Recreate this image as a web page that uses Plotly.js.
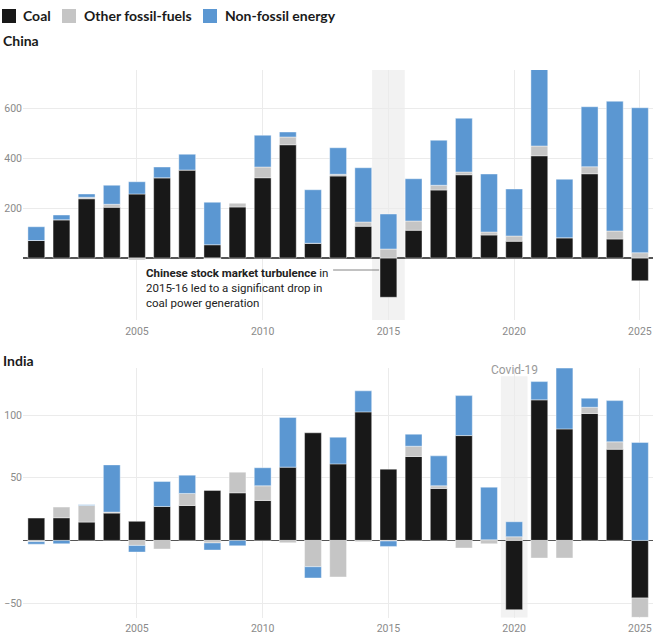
<!DOCTYPE html>
<html>
<head>
<meta charset="utf-8">
<script src="https://cdn.plot.ly/plotly-3.0.1.min.js"></script>
<style>html,body{margin:0;padding:0;background:#fff;}#chart{width:658px;height:643px;}</style>
</head>
<body>
<div id="chart"></div>
<script>
const years = [2001,2002,2003,2004,2005,2006,2007,2008,2009,2010,2011,2012,2013,2014,2015,2016,2017,2018,2019,2020,2021,2022,2023,2024,2025];
const tickYears = [2005,2010,2015,2020,2025];

const chinaCoal      = [70,153,237,203,256,321,352,53,204,321,453,59,328,127,-157,111,272,333,92,67,409,81,337,76,-91];
const chinaOther     = [0,0,6,12,-8,0,0,-4,16,43,31,0,7,17,36,37,19,11,12,21,39,0,28,32,21];
const chinaNonFossil = [55,19,13,76,49,43,63,170,0,127,20,214,106,217,140,169,180,215,232,188,330,234,240,519,580];

const indiaCoal      = [17.8,18.1,14.6,21.8,15.2,27.1,27.9,39.9,38,31.9,58.5,85.9,61.1,102.6,56.9,67,41.5,83.7,0.5,-55.3,112.2,89,101.3,72.8,-46];
const indiaOther     = [-1,8.5,13.3,0.8,-4,-6.9,9.6,-2,16.5,11.7,-1.9,-21,-29.2,-1,-0.5,8.2,2.1,-6.1,-2.7,2.9,-14.1,-14.1,5,5.9,-15.4];
const indiaNonFossil = [-2,-2.7,0.5,37.7,-5.3,19.9,14.6,-5.7,-4.3,14.4,39.6,-9,21.3,16.8,-4.3,9.6,23.9,31.9,42,12,14.6,52,7.2,32.9,78.2];

const chinaTicks = [200,400,600];
const indiaTicks = [-50,50,100];
const indiaTickText = ['\u221250','50','100'];

const seriesNames = ['Coal','Other fossil-fuels','Non-fossil energy'];
const colors = ['#181818','#c5c5c5','#5b97d2'];

// figure geometry (pixels)
const W = 658, H = 643, ML = 23, MR = 5;
const PW = W - ML - MR;
const px = v => (v - ML) / PW;       // pixel x -> paper x
const py = v => (H - v) / H;         // pixel y -> paper y

function bar(x, y, i, xa, ya) {
  return {
    type: 'bar', x: x, y: y, name: seriesNames[i],
    xaxis: xa, yaxis: ya, legendgroup: seriesNames[i], showlegend: false,
    marker: {color: colors[i], line: {color: 'rgba(255,255,255,0.7)', width: 0.6}},
    hoverinfo: 'x+y+name'
  };
}

const data = [
  bar(years, chinaCoal, 0, 'x', 'y'),
  bar(years, chinaOther, 1, 'x', 'y'),
  bar(years, chinaNonFossil, 2, 'x', 'y'),
  bar(years, indiaCoal, 0, 'x2', 'y2'),
  bar(years, indiaOther, 1, 'x2', 'y2'),
  bar(years, indiaNonFossil, 2, 'x2', 'y2')
];

const tickFont = {family: 'Roboto, sans-serif', size: 10.5, color: '#8a8a8a'};
const xCommon = {
  range: [2000.47, 2025.52], tickmode: 'array', tickvals: tickYears,
  showgrid: true, gridcolor: '#ebebeb', gridwidth: 1, zeroline: false,
  showline: false, ticks: '', tickfont: tickFont, fixedrange: true, ticklabelstandoff: 3
};
const yCommon = {
  showgrid: true, gridcolor: '#ebebeb', gridwidth: 1,
  zeroline: true, zerolinecolor: '#555', zerolinewidth: 1.5,
  showline: false, ticks: '', tickfont: tickFont, fixedrange: true
};

// custom legend: swatch positions (pixels)
const legendSwatchX = [2, 62, 203];
const legendTextX = [21, 82, 223];
const legendShapes = seriesNames.map((n, i) => ({
  type: 'rect', xref: 'paper', yref: 'paper',
  x0: px(legendSwatchX[i]), x1: px(legendSwatchX[i] + 14), y0: py(23), y1: py(9),
  fillcolor: colors[i], line: {width: 0}, layer: 'above'
}));
const legendAnnots = seriesNames.map((n, i) => ({
  xref: 'paper', yref: 'paper', x: px(legendTextX[i]), y: py(15.5),
  xanchor: 'left', yanchor: 'middle', showarrow: false, text: n,
  font: {family: 'Lato, sans-serif', size: 14, color: '#1a1a1a', weight: 700}
}));

const layout = {
  width: W, height: H,
  margin: {l: ML, r: MR, t: 0, b: 0, autoexpand: false},
  paper_bgcolor: '#fff', plot_bgcolor: 'rgba(0,0,0,0)',
  barmode: 'relative', bargap: 0.33,
  font: {family: 'Roboto, sans-serif', color: '#222'},
  showlegend: false,
  xaxis: Object.assign({}, xCommon, {anchor: 'y', domain: [0, 1]}),
  yaxis: Object.assign({}, yCommon, {anchor: 'x', domain: [py(320), py(70)], range: [-248, 752], tickmode: 'array', tickvals: chinaTicks}),
  xaxis2: Object.assign({}, xCommon, {anchor: 'y2', domain: [0, 1]}),
  yaxis2: Object.assign({}, yCommon, {anchor: 'x2', domain: [py(617.7), py(368.3)], range: [-61.7, 137.4], tickmode: 'array', tickvals: indiaTicks, ticktext: indiaTickText}),
  shapes: [
    {type: 'rect', xref: 'x', yref: 'y domain', x0: 2014.35, x1: 2015.65, y0: 0, y1: 1, fillcolor: '#f2f2f2', line: {width: 0}, layer: 'below'},
    {type: 'rect', xref: 'x2', yref: 'y2', x0: 2019.47, x1: 2020.53, y0: -61.7, y1: 131, fillcolor: '#f2f2f2', line: {width: 0}, layer: 'below'},
    {type: 'line', xref: 'x', yref: 'y', x0: 2012.8, x1: 2014.63, y0: -48, y1: -48, line: {color: '#666', width: 0.8}, layer: 'above'}
  ].concat(legendShapes),
  annotations: [
    {xref: 'paper', yref: 'paper', x: px(1), y: py(40.5), xanchor: 'left', yanchor: 'middle', showarrow: false,
     text: '<b>China</b>', font: {family: 'Lato, sans-serif', size: 14, color: '#1a1a1a'}},
    {xref: 'paper', yref: 'paper', x: px(1), y: py(360), xanchor: 'left', yanchor: 'middle', showarrow: false,
     text: '<b>India</b>', font: {family: 'Lato, sans-serif', size: 14, color: '#1a1a1a'}},
    {xref: 'x', yref: 'y', x: 2005.3, y: -22, xanchor: 'left', yanchor: 'top', align: 'left', showarrow: false,
     text: '<b>Chinese stock market turbulence</b> in<br>2015-16 led to a significant drop in<br>coal power generation',
     font: {family: 'Roboto, sans-serif', size: 11.5, color: '#222'}},
    {xref: 'x2', yref: 'y2', x: 2020, y: 136, xanchor: 'center', yanchor: 'middle', showarrow: false,
     text: 'Covid-19', font: {family: 'Roboto, sans-serif', size: 12, color: '#9a9a9a'}}
  ].concat(legendAnnots)
};

Plotly.newPlot('chart', data, layout, {displayModeBar: false, staticPlot: true});
</script>
</body>
</html>
